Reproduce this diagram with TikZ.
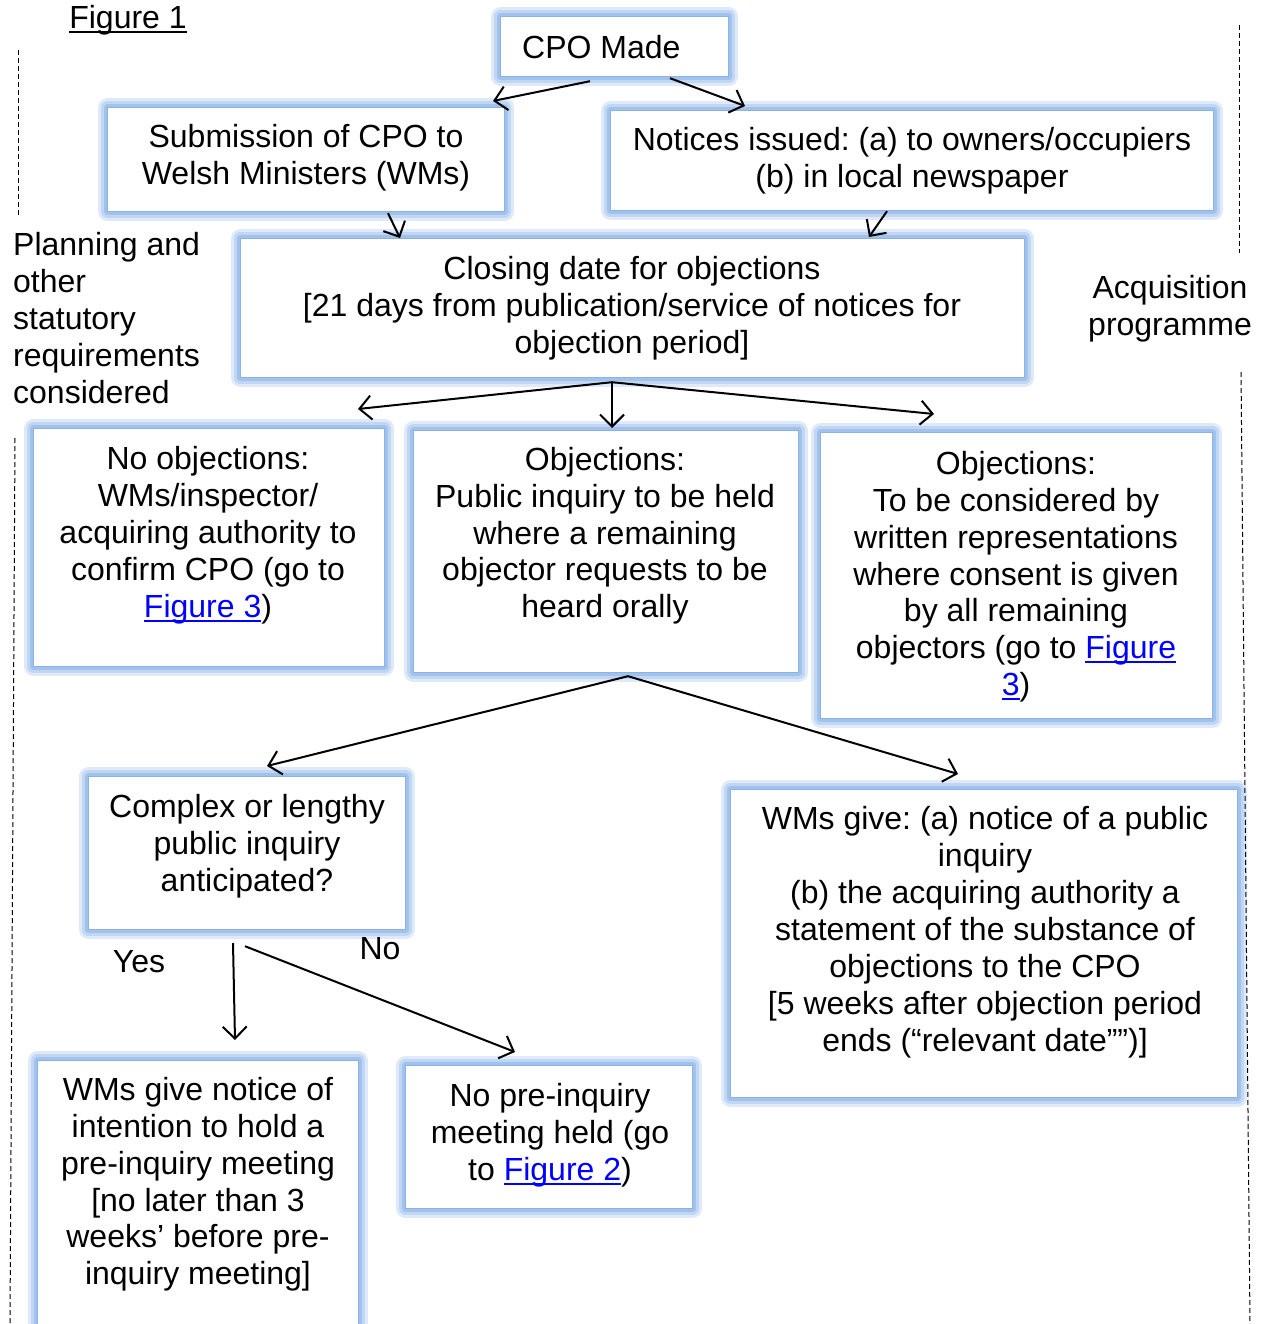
\documentclass[tikz,border=0pt]{standalone}
\usepackage{fontspec}
\setmainfont{Liberation Sans}
\usetikzlibrary{arrows.meta,calc}
\frenchspacing
\definecolor{glowA}{RGB}{222,234,249}
\definecolor{glowB}{RGB}{192,214,243}
\definecolor{glowC}{RGB}{160,194,236}
\definecolor{edgeblue}{RGB}{140,178,226}
\definecolor{linkblue}{RGB}{0,0,255}
\newcommand\myul[1]{\setbox0\hbox{#1}\rlap{\vrule width\wd0 height -2.4pt depth 4.6pt}\box0}
\newcommand\figlink[1]{{\color{linkblue}\myul{#1}}}
\tikzset{
  box/.style={fill=white, draw=edgeblue, line width=1.2pt, inner sep=0pt, anchor=north west,
    preaction={draw=glowA, line width=19pt, line join=round},
    preaction={draw=glowB, line width=13pt, line join=round},
    preaction={draw=glowC, line width=7pt, line join=round}},
  txt/.style={align=center, inner sep=0pt, font=\fontsize{32}{36.9}\selectfont,
    execute at begin node=\strut, execute at end node=\strut},
  arr/.style={-{Straight Barb[length=12pt,width=24pt]}, line width=2pt},
  sidedash/.style={line width=1pt, dash pattern=on 5pt off 3pt}
}
\begin{document}
\begin{tikzpicture}[x=1pt,y=-1pt]
\useasboundingbox (0,0) rectangle (1263,1324);
\fill[white] (0,0) rectangle (1263,1324);

% boxes
\node[box, minimum width=228pt, minimum height=60pt] (cpo) at (500,16) {};
\node[box, minimum width=397pt, minimum height=104pt] (sub) at (107,107) {};
\node[box, minimum width=603pt, minimum height=100pt] (not) at (610,110) {};
\node[box, minimum width=784pt, minimum height=139pt] (clo) at (240,238) {};
\node[box, minimum width=351pt, minimum height=238pt] (noo) at (33,428) {};
\node[box, minimum width=385pt, minimum height=242pt] (opi) at (413,430) {};
\node[box, minimum width=392pt, minimum height=286pt] (owr) at (820,432) {};
\node[box, minimum width=317pt, minimum height=153pt] (cpx) at (88,776) {};
\node[box, minimum width=507pt, minimum height=308pt] (wmg) at (730,789) {};
\node[box, minimum width=321pt, minimum height=290pt] (wmn) at (37,1060) {};
\node[box, minimum width=287pt, minimum height=143pt] (npq) at (405,1065) {};

% texts
\node[txt, anchor=west] (tcpo) at (522,51) {CPO Made};
\node[txt] (tsub) at (306,159.5) {Submission of CPO to\\Welsh Ministers (WMs)};
\node[txt] (tnot) at (912,163) {Notices issued: (a) to owners/occupiers\\(b) in local newspaper};
\node[txt] (tclo) at (632,310.5) {Closing date for objections\\{}[21 days from publication/service of notices for\\objection period]};
\node[txt] (tnoo) at (208,537.5) {No objections:\\WMs/inspector/\\acquiring authority to\\confirm CPO (go to\\\figlink{Figure 3})};
\node[txt] (topi) at (605,538) {Objections:\\Public inquiry to be held\\where a remaining\\objector requests to be\\heard orally};
\node[txt] (towr) at (1016,579) {Objections:\\To be considered by\\written representations\\where consent is given\\by all remaining\\objectors (go to \figlink{Figure}\\\figlink{3})};
\node[txt] (tcpx) at (247,848.5) {Complex or lengthy\\public inquiry\\anticipated?};
\node[txt] (twmg) at (985,934.5) {WMs give: (a) notice of a public\\inquiry\\(b) the acquiring authority a\\statement of the substance of\\objections to the CPO\\{}[5 weeks after objection period\\ends (“relevant date””)]};
\node[txt] (twmn) at (198,1186.5) {WMs give notice of\\intention to hold a\\pre-inquiry meeting\\{}[no later than 3\\weeks’ before pre-\\inquiry meeting]};
\node[txt] (tnpq) at (550,1137.5) {No pre-inquiry\\meeting held (go\\to \figlink{Figure 2})};

% side labels
\node[txt] (fig1) at (128,21) {\myul{Figure 1}};
\node[txt, align=left, anchor=west] (plan) at (13,323.5) {Planning and\\other\\statutory\\requirements\\considered};
\node[txt] (acq) at (1170,310.5) {Acquisition\\programme};
\node[txt] (yes) at (139,965) {Yes};
\node[txt] (no) at (380,952) {No};

% dashed side lines
\draw[sidedash] (18,50) -- (18,215);
\draw[sidedash] (15,438) -- (10,1324);
\draw[sidedash] (1239,25) -- (1239,253);
\draw[sidedash] (1241,372) -- (1250,1324);

% connectors
\draw[arr] ($(cpo.south west)+(90,4)$) -- ($(sub.north west)+(386,-6)$);
\draw[arr] ($(cpo.south west)+(170,1)$) -- ($(not.north west)+(135,-4)$);
\draw[arr] ($(sub.south west)+(281,1)$) -- ($(clo.north west)+(160,0)$);
\draw[arr] ($(not.south west)+(277,0)$) -- ($(clo.north west)+(629,-1)$);
\coordinate (split1) at ($(clo.south west)+(372,4)$);
\draw[arr] (split1) -- ($(noo.north west)+(325,-19)$);
\draw[arr] (split1) -- ($(opi.north west)+(199,-2)$);
\draw[arr] (split1) -- ($(owr.north west)+(114,-18)$);
\coordinate (split2) at ($(opi.south west)+(215,3)$);
\draw[arr] (split2) -- ($(cpx.north west)+(179,-10)$);
\draw[arr] (split2) -- ($(wmg.north west)+(228,-15)$);
\draw[arr] ($(cpx.south west)+(145,13)$) -- ($(wmn.north west)+(198,-20)$);
\draw[arr] ($(cpx.south west)+(157,16)$) -- ($(npq.north west)+(110,-13)$);
\end{tikzpicture}
\end{document}
